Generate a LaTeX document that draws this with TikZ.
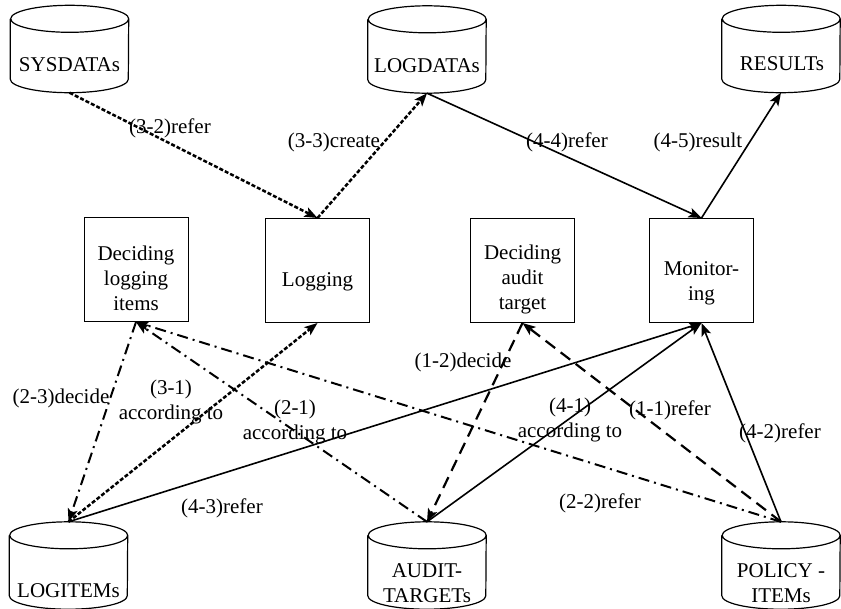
\documentclass[tikz,border=0pt]{standalone}
\usepackage{fontspec}
\setmainfont{Liberation Serif}
\usetikzlibrary{arrows.meta}
\newcommand\cylout[1]{\draw[line width=1.2pt] ([yshift=-13.5pt]#1.north west) -- ([yshift=13.5pt]#1.south west) arc[start angle=180,end angle=360,x radius=59pt,y radius=13.5pt] -- ([yshift=-13.5pt]#1.north east) arc[start angle=0,end angle=360,x radius=59pt,y radius=13.5pt];}
\newcommand\pushdown[1]{\rule{0pt}{#1pt}}
\begin{document}
\begin{tikzpicture}[x=1pt,y=-1pt,
  every node/.style={font=\fontsize{21}{25}\selectfont},
  box/.style={draw, line width=1pt, minimum width=104pt, minimum height=104pt, align=center, inner sep=0pt},
  cyl/.style={minimum width=118pt, minimum height=87pt, inner sep=0pt},
  lbl/.style={align=center, inner sep=0pt},
  tip/.style={-{Stealth[length=13pt,width=10pt,inset=3pt]}},
  solidln/.style={line width=1.6pt},
  dotln/.style={line width=2.5pt, dash pattern=on 4pt off 2pt},
  dashdotln/.style={line width=2pt, dash pattern=on 11pt off 5pt on 2pt off 5pt},
  dashln/.style={line width=2.2pt, dash pattern=on 12pt off 7pt},
]
\useasboundingbox (0,0) rectangle (841,608);
% cylinders
\node[cyl] (sys) at (69.5,49) {};
\node[cyl] (logd) at (427,49.5) {};
\node[cyl] (res) at (781,49) {};
\node[cyl] (logi) at (68.5,565.5) {};
\node[cyl] (aud) at (427,565.5) {};
\node[cyl] (pol) at (781,565.5) {};
\cylout{sys}\cylout{logd}\cylout{res}\cylout{logi}\cylout{aud}\cylout{pol}
\node[lbl] (sysT) at (69.5,65) {SYSDATAs};
\node[lbl] (logdT) at (427,66) {LOGDATAs};
\node[lbl] (resT) at (782,64) {RESULTs};
\node[lbl] (logiT) at (68.5,591) {LOGITEMs};
\node[lbl] (audT) at (427,583) {AUDIT-\\TARGETs};
\node[lbl] (polT) at (781,583) {POLICY -\\ITEMs};
% process boxes
\node[box] (declog) at (136,269.5) {\pushdown{33}Deciding\\logging\\items};
\node[box] (logging) at (317.5,270.5) {\pushdown{36}Logging};
\node[box] (decaud) at (522.5,270.5) {\pushdown{33}Deciding\\audit\\target};
\node[box] (mon) at (701.5,270.5) {\pushdown{39}Monitor-\\ing};
% labels
\node[lbl] (l32) at (170,128) {(3-2)refer};
\node[lbl] (l33) at (334,142) {(3-3)create};
\node[lbl] (l44) at (567,142) {(4-4)refer};
\node[lbl] (l45) at (698,142) {(4-5)result};
\node[lbl] (l31) at (171,402) {(3-1)\\according to};
\node[lbl] (l23) at (61,398) {(2-3)decide};
\node[lbl] (l21) at (295,422) {(2-1)\\according to};
\node[lbl] (l12) at (463,362) {(1-2)decide};
\node[lbl] (l41) at (570,420) {(4-1)\\according to};
\node[lbl] (l11) at (670,410) {(1-1)refer};
\node[lbl] (l42) at (780,433) {(4-2)refer};
\node[lbl] (l43) at (222,508) {(4-3)refer};
\node[lbl] (l22) at (600,503) {(2-2)refer};
% connectors
\draw[dotln,tip] (sys.south) -- (logging.north);
\draw[dotln,tip] (logging.north) -- (logd.south);
\draw[solidln,tip] (logd.south) -- (mon.north);
\draw[solidln,tip] (mon.north) -- (res.south);
\draw[dotln,tip] (logi.north) -- (logging.south);
\draw[dashdotln,tip] (declog.south) -- (logi.north);
\draw[dashdotln,tip] (aud.north) -- (declog.south);
\draw[dashdotln,tip] (pol.north) -- (declog.south);
\draw[dashln,tip] (decaud.south) -- (aud.north);
\draw[dashln,tip] (pol.north) -- (decaud.south);
\draw[solidln,tip] (logi.north) -- (mon.south);
\draw[solidln,tip] (aud.north) -- (mon.south);
\draw[solidln,tip] (pol.north) -- (mon.south);
\end{tikzpicture}
\end{document}
